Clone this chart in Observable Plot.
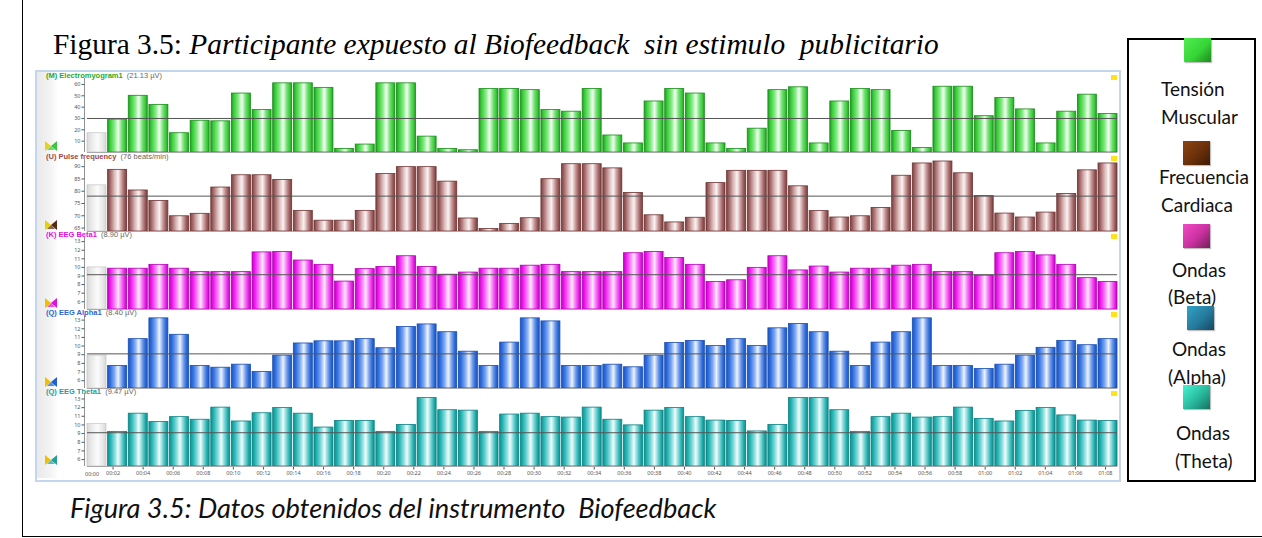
<!DOCTYPE html>
<html><head><meta charset="utf-8">
<script src="https://cdn.jsdelivr.net/npm/d3@7"></script>
<script src="https://cdn.jsdelivr.net/npm/@observablehq/plot@0.6"></script>
<style>
html,body{margin:0;padding:0;background:#fff;}
body{position:relative;width:1262px;height:538px;overflow:hidden;}
.abs{position:absolute;}
#outer{left:22px;top:-2px;width:1250px;height:538px;border-left:1px solid #000;border-bottom:1px solid #000;}
#title{left:53px;top:27px;font-family:"Liberation Serif",serif;font-size:29.4px;white-space:pre;color:#000;line-height:34px;}
#chartframe{left:35px;top:70px;width:1082px;height:408px;border:2px solid #c3d6ec;background:#fff;}
#strip{left:37px;top:72px;width:20px;height:406px;background:linear-gradient(90deg,#e9e9e9,#f4f4f4 70%,#fdfdfd);}
.hdr{font-family:"Liberation Sans",Arial,sans-serif;font-size:7.5px;white-space:pre;line-height:7.5px;left:46px;}
.hdr b{font-weight:bold;}
.hdr span{color:#666;}
.pl{position:absolute;left:36px;}
#legend{left:1127px;top:38px;width:125px;height:440px;border:2px solid #000;}
.lt{font-family:Lato,"Open Sans",sans-serif;font-size:19px;line-height:24px;white-space:pre;color:#111;}
.sw{width:27px;height:24px;}
#caption{left:70px;top:492px;font-family:Lato,sans-serif;font-style:italic;font-size:27.2px;white-space:pre;line-height:32px;color:#111;}
.yel{width:6px;height:5px;background:#ffe21a;left:1111px;}
</style></head><body>
<div id="outer" class="abs"></div>
<div id="title" class="abs">Figura 3.5: <i>Participante expuesto al Biofeedback  sin estimulo  publicitario</i></div>
<div id="chartframe" class="abs"></div>
<div id="strip" class="abs"></div>
<div id="panels"></div>
<div id="legend" class="abs"></div>
<div id="legendItems"></div>
<div id="caption" class="abs">Figura 3.5: Datos obtenidos del instrumento  Biofeedback</div>
<script>
// ---- data ----
const muscleTension = [17,29,50,42,17,28,27.5,52,37.5,61,61,57,3,7,61,61,14,3,2,56,56,55,37.5,36,56,15,8,45,56,52,8,3,21,55,57.5,8,45,56,55,19,4,58,58,32,48,38,8,36,51,34];
const pulseFreq = [82.4,88.7,80.3,76,69.8,70.8,81.5,86.5,86.5,84.6,72,68,68,72,87,89.8,89.8,83.9,68.9,64.6,66.7,69,84.9,91,91,89.3,79.3,70.2,67.3,69.2,83.3,88.3,88.3,88.3,82,71.9,69.3,69.8,73.2,86.3,91.3,92.1,87.3,78,70.9,69.3,71.3,78.9,88.5,91.3];
const eegBeta = [10,9.85,9.85,10.3,9.85,9.45,9.45,9.45,11.75,11.8,10.8,10.3,8.35,9.8,10.05,11.3,10.05,9.15,9.4,9.85,9.85,10.2,10.3,9.45,9.45,9.45,11.65,11.8,11.1,10.3,8.3,8.5,9.95,11.3,9.65,10.1,9.4,9.85,9.85,10.2,10.3,9.45,9.45,9.05,11.65,11.8,11.4,10.3,8.75,8.3];
const eegAlpha = [8.9,7.7,10.8,13.2,11.3,7.7,7.5,7.85,7.0,8.9,10.3,10.55,10.55,10.8,9.75,12.2,12.5,11.6,9.35,7.7,10.4,13.2,12.85,7.7,7.7,7.85,7.55,8.9,10.35,10.6,10,10.8,10,12.05,12.55,11.6,9.35,7.7,10.4,11.6,13.2,7.7,7.7,7.35,7.85,8.9,9.8,10.6,10.1,10.8];
const eegTheta = [10.1,9.2,11.3,10.35,10.9,10.6,12.0,10.4,11.35,11.95,11.3,9.7,10.45,10.45,9.2,10,13.1,11.7,11.65,9.2,11.2,11.3,10.9,10.85,12.0,10.6,9.95,11.65,11.95,10.9,10.5,10.45,9.25,10,13.1,13.1,11.7,9.2,10.9,11.3,10.85,10.9,12.0,10.7,10.4,11.6,11.95,11.1,10.5,10.45];
const meanLines = [30, 78, 9.15, 9.1, 9.1];
const panelNames = ["(M) Electromyogram1", "(U) Pulse frequency", "(K) EEG Beta1", "(Q) EEG Alpha1", "(Q) EEG Theta1"];
const panelUnits = ["(21.13 µV)", "(76 beats/min)", "(8.90 µV)", "(8.40 µV)", "(9.47 µV)"];
const yTicksMuscle = [10,20,30,40,50,60];
const yTicksPulse = [65,70,75,80,85,90];
const yTicksEEG = [6,7,8,9,10,11,12,13];
const timeTicks = [0,2,4,6,8,10,12,14,16,18,20,22,24,26,28,30,32,34,36,38,40,42,44,46,48,50,52,54,56,58,60,62,64,66,68];
const timeLabels = ["00:00","00:02","00:04","00:06","00:08","00:10","00:12","00:14","00:16","00:18","00:20","00:22","00:24","00:26","00:28","00:30","00:32","00:34","00:36","00:38","00:40","00:42","00:44","00:46","00:48","00:50","00:52","00:54","00:56","00:58","01:00","01:02","01:04","01:06","01:08"];
const legendLabels = [["Tensión","Muscular"],["Frecuencia","Cardiaca"],["Ondas","(Beta)"],["Ondas","(Alpha)"],["Ondas","(Theta)"]];

// ---- layout / style config ----
const panels = [
  {key:"g", values:muscleTension, ticks:yTicksMuscle, domain:[0,63.5], top:80, bottom:152, hdr:72, head:"#1faa1f", edge:"#1a8c1a",
   stops:["#1d9e1d","#3ccf3c","#86ea86","#f2fff2","#6ee06e","#3cc83c","#1d9e1d"]},
  {key:"b", values:pulseFreq, ticks:yTicksPulse, domain:[63.6,92.1], top:161, bottom:231, hdr:153, head:"#a04848", edge:"#6e3434",
   stops:["#7c3f3f","#a66a6a","#dcbcbc","#fbf3f3","#c49494","#985858","#7c3f3f"]},
  {key:"p", values:eegBeta, ticks:yTicksEEG, domain:[5.1,13.25], top:239, bottom:309, hdr:230.5, head:"#e010e0", edge:"#b000b0",
   stops:["#c000c0","#f01af0","#f77ef7","#fde8fd","#f56cf5","#e61ee6","#c000c0"]},
  {key:"a", values:eegAlpha, ticks:yTicksEEG, domain:[5.1,13.3], top:317, bottom:388, hdr:308.5, head:"#2a66d0", edge:"#1a4cb0",
   stops:["#1b55c0","#2f6fe0","#82aaf0","#eef4ff","#6f9ae8","#2a68d8","#1b55c0"]},
  {key:"t", values:eegTheta, ticks:yTicksEEG, domain:[5.2,13.4], top:395, bottom:466, hdr:387.5, head:"#1a9f9f", edge:"#0d7f7f",
   stops:["#0f8f8f","#20b2b2","#82d9d9","#effcfc","#6ed0d0","#1eaaaa","#0f8f8f"]}
];
const stopOffsets = [0,0.14,0.36,0.55,0.75,0.9,1];
const grayStops = ["#d6d6d6","#e4e4e4","#f0f0f0","#fbfbfb","#eeeeee","#e2e2e2","#d6d6d6"];
const W = 1084, ML = 51, MR = 3, PAD = 6;

function gradDef(id, stops) {
  return `<linearGradient id="${id}" x1="0" x2="1" y1="0" y2="0">` +
    stops.map((c, k) => `<stop offset="${stopOffsets[k]}" stop-color="${c}"/>`).join("") + `</linearGradient>`;
}

const holder = document.getElementById("panels");
panels.forEach((p, idx) => {
  const rows = p.values.map((v, i) => ({i, v}));
  const lo = p.domain[0];
  const axisLine = (index, scales, values, dims) => {
    const l = document.createElementNS("http://www.w3.org/2000/svg", "line");
    l.setAttribute("x1", dims.marginLeft - 2.5); l.setAttribute("x2", dims.marginLeft - 2.5);
    l.setAttribute("y1", dims.marginTop - 2); l.setAttribute("y2", dims.height - dims.marginBottom);
    l.setAttribute("stroke", "#777"); l.setAttribute("stroke-width", "0.8");
    return l;
  };
  const svg = Plot.plot({
    width: W, height: (p.bottom - p.top) + 2 * PAD,
    marginLeft: ML, marginRight: MR, marginTop: PAD, marginBottom: PAD,
    style: {background: "transparent", overflow: "visible"},
    x: {type: "band", domain: d3.range(p.values.length), paddingInner: 0.08, paddingOuter: 0, axis: null},
    y: {domain: p.domain, axis: null},
    marks: [
      Plot.barY(rows, {filter: d => d.i === 0, x: "i", y1: lo, y2: "v", fill: "url(#grad-gray-" + p.key + ")", stroke: "#c6c6c6", strokeWidth: 0.7}),
      Plot.barY(rows, {filter: d => d.i > 0, x: "i", y1: lo, y2: "v", fill: "url(#grad-" + p.key + ")", stroke: p.edge, strokeWidth: 0.8}),
      Plot.ruleY([lo], {stroke: "#a8a8a8", strokeWidth: 1}),
      Plot.ruleY([meanLines[idx]], {stroke: "#555", strokeWidth: 1}),
      Plot.axisY(p.ticks, {tickSize: 3, tickPadding: 1.5, fontSize: 5.5, color: "#555", label: null, dx: -2.5}),
      axisLine
    ]
  });
  d3.select(svg).insert("defs", ":first-child").html(gradDef("grad-" + p.key, p.stops) + gradDef("grad-gray-" + p.key, grayStops));
  svg.classList.add("pl");
  svg.style.top = (p.top - PAD) + "px";
  holder.appendChild(svg);

  const h = document.createElement("div");
  h.className = "abs hdr";
  h.style.top = p.hdr + "px";
  h.innerHTML = `<b style="color:${p.head}">${panelNames[idx]}</b>  <span>${panelUnits[idx]}</span>`;
  holder.appendChild(h);

  const y = document.createElement("div");
  y.className = "abs yel";
  y.style.top = (p.hdr + 3) + "px";
  holder.appendChild(y);
});

// time axis under the last panel
const last = panels[panels.length - 1];
const tRows = timeTicks.map((t, k) => ({t, label: timeLabels[k]}));
const xAxis = Plot.plot({
  width: W, height: 14, marginLeft: ML, marginRight: MR, marginTop: 0, marginBottom: 13,
  style: {background: "transparent", overflow: "visible"},
  x: {domain: [0.3, 68.8], axis: null},
  marks: [
    Plot.axisX(tRows.filter(d => d.t > 0).map(d => d.t), {tickSize: 2.5, tickPadding: 1.5, fontSize: 5.5, color: "#555", label: null,
      tickFormat: t => timeLabels[timeTicks.indexOf(t)]}),
    Plot.text(tRows.filter(d => d.t === 0), {x: "t", text: "label", frameAnchor: "bottom", textAnchor: "start", dx: 2, dy: 8.5, fontSize: 5.5, fill: "#555"})
  ]
});
xAxis.classList.add("pl");
xAxis.style.top = last.bottom + "px";
holder.appendChild(xAxis);

// left icons (decorative)
const iconCols = [["#3cc83c","#e6d21a"],["#5a2a10","#e8d000"],["#e010e0","#f0c000"],["#2060d0","#f0c000"],["#20a0a0","#f0c000"]];
panels.forEach((p, idx) => {
  const s = document.createElementNS("http://www.w3.org/2000/svg", "svg");
  s.setAttribute("width", 14); s.setAttribute("height", 12);
  s.style.position = "absolute"; s.style.left = "44px"; s.style.top = (p.bottom - 12) + "px";
  s.innerHTML = `<polygon points="1,1 7,6 1,11" fill="${iconCols[idx][1]}"/><polygon points="13,1 7,6 13,11" fill="${iconCols[idx][0]}"/><polygon points="3,10 11,10 7,6" fill="${iconCols[idx][0]}" opacity="0.7"/>`;
  holder.appendChild(s);
});

// legend
const legendSw = [
  {left:1184, top:38, g:"linear-gradient(135deg,#52ec52,#36d636 55%,#1e8a1e)"},
  {left:1183, top:141, g:"linear-gradient(135deg,#8e4512,#6a300a 55%,#3e1a04)"},
  {left:1183, top:224, g:"linear-gradient(135deg,#f44ac8,#c8309e 55%,#702058)"},
  {left:1187, top:306, g:"linear-gradient(135deg,#34a2c8,#247a9c 55%,#17475f)"},
  {left:1183, top:385, g:"linear-gradient(135deg,#44f4d2,#28b89c 55%,#17705e)"}
];
const legendText = [
  [{x:1161,y:77},{x:1161,y:105}],
  [{x:1159,y:165},{x:1161,y:193}],
  [{x:1172,y:258},{x:1168,y:285}],
  [{x:1172,y:337},{x:1168,y:365}],
  [{x:1176,y:421},{x:1175,y:449}]
];
const li = document.getElementById("legendItems");
legendLabels.forEach((lines, k) => {
  lines.forEach((txt, j) => {
    const d = document.createElement("div");
    d.className = "abs lt";
    d.style.left = legendText[k][j].x + "px";
    d.style.top = legendText[k][j].y + "px";
    d.textContent = txt;
    li.appendChild(d);
  });
  const s = document.createElement("div");
  s.className = "abs sw";
  s.style.left = legendSw[k].left + "px";
  s.style.top = legendSw[k].top + "px";
  s.style.background = legendSw[k].g;
  s.style.boxShadow = "1px 1px 1px rgba(0,0,0,0.25)";
  li.appendChild(s);
});
</script>
</body></html>
